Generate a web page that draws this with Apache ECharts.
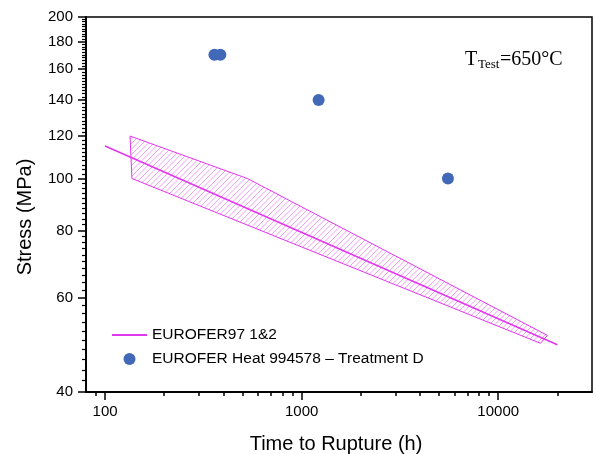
<!DOCTYPE html>
<html>
<head>
<meta charset="utf-8">
<script src="https://cdn.jsdelivr.net/npm/echarts@6/dist/echarts.min.js"></script>
<style>
html,body{margin:0;padding:0;background:#fff;}
#chart{width:596px;height:454px;}
</style>
</head>
<body>
<div id="chart"></div>
<script>
// ---- data ----
const xMajorTicks = [100, 1000, 10000];
const xMinorTicks = [90, 200, 300, 400, 500, 600, 700, 800, 900, 2000, 3000, 4000, 5000, 6000, 7000, 8000, 9000, 20000];
const yMajorTicks = [40, 60, 80, 100, 120, 140, 160, 180, 200];
const yMinorTicks = [];
for (let v = 42; v < 200; v += 2) { if (yMajorTicks.indexOf(v) < 0) yMinorTicks.push(v); }
const xRange = [80, 30000];
const yRange = [40, 200];

const lineName = 'EUROFER97 1&2';
const lineTime = [100, 20000];
const lineStress = [115, 49];

const bandTime = [134, 530, 17800, 16400, 137];
const bandStress = [120, 100, 51, 49.3, 100];

const pointName = 'EUROFER Heat 994578 \u2013 Treatment D';
const pointTime = [360, 386, 1220, 5550];
const pointStress = [170, 170, 140, 100];

// ---- helpers ----
const L = Math.log10;
const MAG = '#e038ec';
const HATCH = '#ea5cf2';
const BLUE = '#4169b8';
const SANS = 'Liberation Sans, Arial, sans-serif';
const SERIF = 'Liberation Serif, Times New Roman, serif';
const HATCH_STEP = 5.5;

// hatch lines x + y = c clipped to a convex polygon (pixel space)
function hatchLines(pts, step) {
  let cmin = Infinity, cmax = -Infinity;
  pts.forEach(p => { const c = p[0] + p[1]; cmin = Math.min(cmin, c); cmax = Math.max(cmax, c); });
  const out = [];
  for (let c = Math.ceil(cmin / step) * step; c <= cmax; c += step) {
    const hits = [];
    for (let i = 0; i < pts.length; i++) {
      const P = pts[i], Q = pts[(i + 1) % pts.length];
      const fp = P[0] + P[1] - c, fq = Q[0] + Q[1] - c;
      if ((fp <= 0 && fq > 0) || (fp > 0 && fq <= 0)) {
        const t = fp / (fp - fq);
        hits.push([P[0] + t * (Q[0] - P[0]), P[1] + t * (Q[1] - P[1])]);
      }
    }
    if (hits.length >= 2) {
      hits.sort((a, b) => a[0] - b[0]);
      const a = hits[0], b = hits[hits.length - 1];
      out.push({ type: 'line', shape: { x1: a[0], y1: a[1], x2: b[0], y2: b[1] }, style: { stroke: HATCH, fill: null, lineWidth: 0.8, opacity: 0.75 } });
    }
  }
  return out;
}

function xAxisBase(extra) {
  return Object.assign({
    type: 'value', position: 'bottom',
    min: L(xRange[0]), max: L(xRange[1]),
    splitLine: { show: false },
    axisLine: { show: true, onZero: false, lineStyle: { color: '#000', width: 1.5 } }
  }, extra);
}
function yAxisBase(extra) {
  return Object.assign({
    type: 'value', position: 'left',
    min: L(yRange[0]), max: L(yRange[1]),
    splitLine: { show: false },
    axisLine: { show: true, onZero: false, lineStyle: { color: '#000', width: 1.5 } }
  }, extra);
}

const chart = echarts.init(document.getElementById('chart'), null, { renderer: 'canvas' });
chart.setOption({
  animation: false,
  backgroundColor: '#fff',
  color: [MAG, MAG, BLUE],
  grid: { left: 86, right: 4, top: 17, bottom: 62, show: true, borderColor: '#000', borderWidth: 1.5, backgroundColor: 'transparent' },
  xAxis: [
    xAxisBase({
      axisTick: { show: true, customValues: xMajorTicks.map(L), length: 8, lineStyle: { color: '#000', width: 1.5 } },
      axisLabel: { show: true, customValues: xMajorTicks.map(L), formatter: v => String(Math.round(Math.pow(10, v))), color: '#000', fontSize: 15, fontFamily: SANS, margin: 12 }
    }),
    xAxisBase({
      axisTick: { show: true, customValues: xMinorTicks.map(L), length: 4, lineStyle: { color: '#000', width: 1.5 } },
      axisLabel: { show: false }
    })
  ],
  yAxis: [
    yAxisBase({
      axisTick: { show: true, customValues: yMajorTicks.map(L), length: 8, lineStyle: { color: '#000', width: 1.5 } },
      axisLabel: { show: true, customValues: yMajorTicks.map(L), formatter: v => String(Math.round(Math.pow(10, v))), color: '#000', fontSize: 15, fontFamily: SANS, margin: 13 }
    }),
    yAxisBase({
      axisTick: { show: true, customValues: yMinorTicks.map(L), length: 4, lineStyle: { color: '#000', width: 1.2 } },
      axisLabel: { show: false }
    })
  ],
  legend: {
    orient: 'vertical', left: 111, top: 327, padding: 0, itemGap: 8,
    itemWidth: 35, itemHeight: 12,
    data: [lineName, pointName],
    textStyle: { color: '#000', fontSize: 15.5, fontFamily: SANS }
  },
  series: [
    {
      type: 'custom', name: 'band', xAxisIndex: 0, yAxisIndex: 0,
      data: [[L(bandTime[0]), L(bandStress[0])]],
      itemStyle: { color: MAG },
      renderItem: function (params, api) {
        const pts = bandTime.map((t, i) => api.coord([L(t), L(bandStress[i])]));
        const children = hatchLines(pts, HATCH_STEP);
        children.push({
          type: 'polygon',
          shape: { points: pts },
          style: { fill: null, stroke: MAG, lineWidth: 1 }
        });
        return { type: 'group', children: children };
      },
      z: 1
    },
    {
      type: 'line', name: lineName, xAxisIndex: 0, yAxisIndex: 0,
      data: lineTime.map((t, i) => [L(t), L(lineStress[i])]),
      symbol: 'none', showSymbol: false,
      lineStyle: { color: MAG, width: 1.5 }, itemStyle: { color: MAG, opacity: 0 },
      z: 3
    },
    {
      type: 'scatter', name: pointName, xAxisIndex: 0, yAxisIndex: 0,
      data: pointTime.map((t, i) => [L(t), L(pointStress[i])]),
      symbol: 'circle', symbolSize: 12,
      itemStyle: { color: BLUE, opacity: 1 },
      z: 4
    }
  ],
  graphic: [
    { type: 'text', x: 336, y: 444, style: { text: 'Time to Rupture (h)', fill: '#000', font: '20px ' + SANS, align: 'center', verticalAlign: 'middle' } },
    { type: 'text', x: 25, y: 217, rotation: Math.PI / 2, style: { text: 'Stress (MPa)', fill: '#000', font: '20px ' + SANS, align: 'center', verticalAlign: 'middle' } },
    { type: 'text', x: 465, y: 59.5, style: { text: 'T', fill: '#000', font: '20px ' + SERIF, align: 'left', verticalAlign: 'middle' } },
    { type: 'text', x: 478, y: 64.6, style: { text: 'Test', fill: '#000', font: '13px ' + SERIF, align: 'left', verticalAlign: 'middle' } },
    { type: 'text', x: 500, y: 59.5, style: { text: '=650\u00b0C', fill: '#000', font: '20px ' + SERIF, align: 'left', verticalAlign: 'middle' } }
  ]
});
</script>
</body>
</html>
